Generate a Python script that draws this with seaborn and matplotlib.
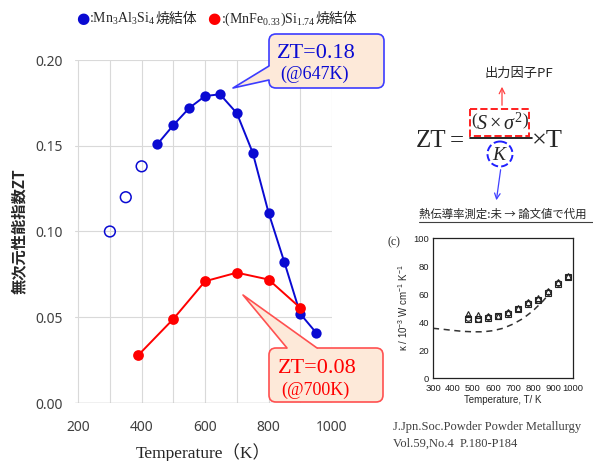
import matplotlib
matplotlib.use("Agg")
import matplotlib.pyplot as plt
import seaborn as sns
from matplotlib.patches import FancyBboxPatch, Polygon, Rectangle, Circle
from matplotlib.offsetbox import TextArea, HPacker, AnchoredOffsetbox

# main chart: ZT vs temperature
blue_open_T = [300, 350, 400]
blue_open_zt = [0.100, 0.120, 0.138]
blue_T = [450, 500, 550, 600, 647, 700, 750, 800, 850, 900, 950]
blue_zt = [0.151, 0.162, 0.172, 0.179, 0.180, 0.169, 0.146, 0.111, 0.082, 0.052, 0.041]
red_T = [390, 500, 600, 700, 800, 900]
red_zt = [0.028, 0.049, 0.071, 0.076, 0.072, 0.0555]
x_ticks = [200, 400, 600, 800, 1000]
y_ticks = [0.0, 0.05, 0.10, 0.15, 0.20]
y_ticklabels = ["0.00", "0.05", "0.10", "0.15", "0.20"]

# inset (paper figure c): thermal conductivity
ins_T = [473, 523, 573, 623, 673, 723, 773, 823, 873, 923, 973]
ins_sq = [42, 42, 43, 44, 46, 49, 53, 56, 61, 67, 72]
ins_ci = [43, 42.5, 43.5, 44, 46.5, 49.5, 53.5, 56, 61.5, 68, 72.5]
ins_tri = [45.5, 45, 44.5, 44.5, 47, 50, 54, 57, 62, 68.5, 73]
dash_T = [300, 350, 400, 450, 500, 550, 600, 650, 700, 750, 800, 850, 880]
dash_k = [35.5, 34.8, 34, 33.3, 33, 33, 33.8, 35.5, 38.5, 42.5, 48, 55, 60]

BLUE = "#0a0ad2"
RED = "#ff0000"
FILL = "#fde9d9"

sns.set_style("white")
plt.rcParams["font.family"] = ["Liberation Serif", "Noto Sans CJK JP"]
plt.rcParams["mathtext.fontset"] = "custom"
plt.rcParams["mathtext.rm"] = "Liberation Serif"
plt.rcParams["mathtext.it"] = "Liberation Serif:italic"
plt.rcParams["mathtext.default"] = "regular"
CJK = ["Noto Sans CJK JP", "DejaVu Sans"]

fig = plt.figure(figsize=(5.93, 4.61), dpi=100)
ax = fig.add_axes([75 / 593, 58 / 461, 257 / 593, 343 / 461])

sns.lineplot(x=blue_T, y=blue_zt, color=BLUE, lw=1.4, ax=ax)
sns.scatterplot(x=blue_T, y=blue_zt, color=BLUE, s=55, linewidth=0, ax=ax, zorder=3)
sns.scatterplot(x=blue_open_T, y=blue_open_zt, facecolor="none", edgecolor=BLUE,
                s=60, linewidth=1.1, ax=ax, zorder=3)
sns.lineplot(x=red_T, y=red_zt, color=RED, lw=1.4, ax=ax)
sns.scatterplot(x=red_T, y=red_zt, color=RED, s=60, linewidth=0, ax=ax, zorder=4)

ax.set_xlim(190, 1000)
ax.set_ylim(0, 0.20)
ax.set_xticks(x_ticks)
ax.set_xticks([300, 500, 700, 900], minor=True)
ax.set_yticks(y_ticks)
ax.set_yticklabels(y_ticklabels)
ax.set_axisbelow(True)
ax.grid(True, which="both", color="#d9d9d9", lw=0.8)
ax.axhline(0, color="#bfbfbf", lw=1.0, zorder=1)
for s in ax.spines.values():
    s.set_visible(False)
ax.tick_params(axis="x", which="both", length=3, color="#d9d9d9", pad=9)
ax.tick_params(axis="y", length=0, pad=9)
for lab in ax.get_xticklabels() + ax.get_yticklabels():
    lab.set_family("Noto Sans")
    lab.set_fontsize(10)
    lab.set_color("#404040")
ax.set_xlabel("Temperature（K）", fontsize=12.5, labelpad=6)
ax.set_ylabel("無次元性能指数ZT", family=CJK, fontweight="bold", fontsize=11, labelpad=6)

# inset
ins = fig.add_axes([433 / 593, 83 / 461, 140 / 593, 140 / 461])
sns.lineplot(x=dash_T, y=dash_k, color="#333333", lw=1.1, ax=ins, linestyle=(0, (4, 3)))
sns.lineplot(x=ins_T, y=ins_sq, marker="s", linestyle="", mfc="none", mec="#222222",
             ms=4, mew=0.8, ax=ins)
sns.lineplot(x=ins_T, y=ins_ci, marker="o", linestyle="", mfc="none", mec="#222222",
             ms=4, mew=0.8, ax=ins)
sns.lineplot(x=ins_T, y=ins_tri, marker="^", linestyle="", mfc="none", mec="#222222",
             ms=4, mew=0.8, ax=ins)
ins.set_xlim(300, 1000)
ins.set_ylim(0, 100)
ins.set_xticks(range(300, 1001, 100))
ins.set_yticks(range(0, 101, 20))
ins.tick_params(direction="in", labelsize=6.8, length=4, width=0.8, colors="#222222")
ins.tick_params(axis="x", pad=4)
ins.tick_params(axis="y", pad=3)
for lab in ins.get_xticklabels() + ins.get_yticklabels():
    lab.set_family("Liberation Sans")
for s in ins.spines.values():
    s.set_color("#222222")
    s.set_linewidth(0.9)
ins.set_xlabel("Temperature, T/ K", fontsize=7, family="Liberation Sans", labelpad=2)
ins.set_ylabel(r"$\kappa$ / 10$^{-3}$ W cm$^{-1}$ K$^{-1}$", fontsize=7,
               family="Liberation Sans", labelpad=2)

# overlay in pixel coordinates for callouts and notes
ov = fig.add_axes([0, 0, 1, 1], zorder=10)
ov.set_xlim(0, 593)
ov.set_ylim(461, 0)
ov.axis("off")


def callout(x0, y0, x1, y1, tail, inward, ec):
    ov.add_patch(FancyBboxPatch((x0, y0), x1 - x0, y1 - y0,
                                boxstyle="round,pad=0,rounding_size=7",
                                ec=ec, fc=FILL, lw=1.2, zorder=3))
    (bx1, by1), tip, (bx2, by2) = tail
    dx, dy = inward
    ov.add_patch(Polygon([(bx1 + dx, by1 + dy), (bx1, by1), tip, (bx2, by2), (bx2 + dx, by2 + dy)],
                         closed=True, fc=FILL, ec="none", zorder=4))
    ov.plot([bx1, tip[0], bx2], [by1, tip[1], by2], color=ec, lw=1.2, zorder=5)


callout(269, 34, 384, 88, [(269, 66), (233, 88), (269, 80)], (3, 0), "#3c3cff")
ov.text(277, 58, "ZT=0.18", fontsize=16, color=BLUE, zorder=6)
ov.text(280, 79, "(@647K)", fontsize=13, color=BLUE, zorder=6)

callout(269, 348, 383, 402, [(287, 348), (243, 295), (317, 348)], (0, 3), "#ff5050")
ov.text(278, 373, "ZT=0.08", fontsize=16, color=RED, zorder=6)
ov.text(281, 395, "(@700K)", fontsize=13, color=RED, zorder=6)

# formula
ov.text(416, 147, "ZT", fontsize=18)
ov.text(450, 147, "=", fontsize=18)
ov.text(500, 124, r"$\left(\mathit{S}\times\mathit{\sigma}^{2}\right)$", fontsize=14.5,
        ha="center", va="center")
ov.add_patch(Rectangle((470, 109), 59, 27, fill=False, ec="#ff2020", ls="--", lw=1.4))
ov.plot([470, 532], [138, 138], color="black", lw=1.2)
ov.text(500, 155, r"$\mathit{K}$", fontsize=14, ha="center", va="center")
ov.add_patch(Circle((500, 154), 12.5, fill=False, ec="#2020ff", ls="--", lw=1.4))
ov.text(532, 147, "×T", fontsize=19)
ov.annotate("", xy=(502, 84), xytext=(502, 108),
            arrowprops=dict(arrowstyle="->", color="#ff4040", lw=0.9))
ov.text(519, 73, "出力因子PF", family=CJK, fontsize=9.5, ha="center", va="center")
ov.annotate("", xy=(496, 203), xytext=(501, 167),
            arrowprops=dict(arrowstyle="->", color="#4040ff", lw=0.9))
ov.text(419, 214, "熱伝導率測定:未 → 論文値で代用", family=CJK, fontsize=8.2, va="center")
ov.plot([419, 593], [222, 222], color="#404040", lw=0.8)

ov.text(387, 242, "(c)", fontsize=8.5, va="center")
ov.text(393, 427, "J.Jpn.Soc.Powder Powder Metallurgy", fontsize=9, color="#404040", va="center")
ov.text(393, 444, "Vol.59,No.4  P.180-P184", fontsize=9, color="#404040", va="center")

# legend row at the top
def ta(s, color="#262626", size=10, family=("Liberation Serif",)):
    return TextArea(s, textprops=dict(color=color, fontsize=size, family=list(family)))


row = HPacker(children=[
    ta("●", BLUE, 11, ["DejaVu Sans"]), ta(":Mn$_3$Al$_3$Si$_4$"), ta("焼結体", family=CJK),
    ta("   "),
    ta("●", RED, 11, ["DejaVu Sans"]), ta(":(MnFe$_{0.33}$)Si$_{1.74}$"), ta("焼結体", family=CJK),
], align="baseline", pad=0, sep=0)
ov.add_artist(AnchoredOffsetbox(loc="lower left", child=row, pad=0, borderpad=0, frameon=False,
                                bbox_to_anchor=(76, 28), bbox_transform=ov.transData))

fig.savefig("out.png", dpi=100)
